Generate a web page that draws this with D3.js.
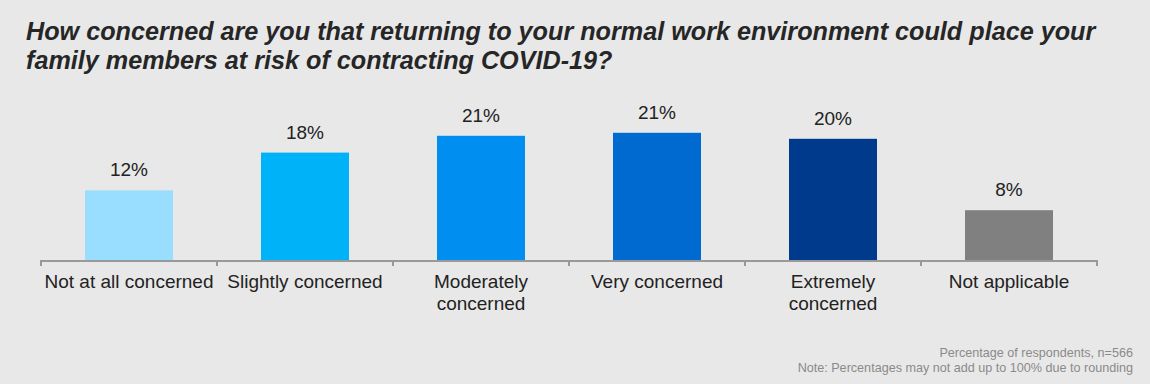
<!DOCTYPE html>
<html>
<head>
<meta charset="utf-8">
<script src="https://cdn.jsdelivr.net/npm/d3@7"></script>
<style>
	body { margin: 0; background: #e8e8e8; }
	svg { display: block; font-family: "Liberation Sans", Arial, sans-serif; }
</style>
</head>
<body>
<script>
var categories = [
	["Not at all concerned"],
	["Slightly concerned"],
	["Moderately", "concerned"],
	["Very concerned"],
	["Extremely", "concerned"],
	["Not applicable"]
];
var values = [11.6, 17.9, 20.7, 21.2, 20.2, 8.3];
var colors = ["#99ddff", "#00b2f7", "#008ff0", "#006ad0", "#003a8c", "#808080"];
var title_lines = [
	"How concerned are you that returning to your normal work environment could place your",
	"family members at risk of contracting COVID-19?"
];
var notes = [
	"Percentage of respondents, n=566",
	"Note: Percentages may not add up to 100% due to rounding"
];

var width = 1150, height = 384;
var svg = d3.select("body").append("svg").attr("width", width).attr("height", height);

svg.append("rect").attr("width", width).attr("height", height).attr("fill", "#e8e8e8");

// title
svg.append("g").selectAll("text")
	.data(title_lines)
	.enter().append("text")
	.attr("x", 26)
	.attr("y", function (d, i) { return 40 + i * 28.5; })
	.attr("fill", "#262626")
	.attr("font-size", 25.2)
	.attr("font-weight", "bold")
	.attr("font-style", "italic")
	.text(function (d) { return d; });

var idx = d3.range(categories.length);
var x = d3.scaleBand().domain(idx).range([41, 1097]).paddingInner(0.5).paddingOuter(0.25);
var y = d3.scaleLinear().domain([0, 25]).range([260, 110]);

// bars
svg.append("g").selectAll("rect")
	.data(idx)
	.enter().append("rect")
	.attr("x", function (i) { return x(i); })
	.attr("y", function (i) { return y(values[i]); })
	.attr("width", x.bandwidth())
	.attr("height", function (i) { return y(0) - y(values[i]); })
	.attr("fill", function (i) { return colors[i]; });

// value labels
svg.append("g").selectAll("text")
	.data(idx)
	.enter().append("text")
	.attr("x", function (i) { return x(i) + x.bandwidth() / 2; })
	.attr("y", function (i) { return y(values[i]) - 14; })
	.attr("text-anchor", "middle")
	.attr("font-size", 19)
	.attr("fill", "#222")
	.text(function (i) { return d3.format(".0f")(values[i]) + "%"; });

// axis line with ticks at band edges
var step = x.step();
var axis = svg.append("g");
axis.append("line")
	.attr("x1", 41).attr("x2", 1097)
	.attr("y1", y(0) + 1).attr("y2", y(0) + 1)
	.attr("stroke", "#999").attr("stroke-width", 2);
axis.selectAll("line.tick")
	.data(d3.range(categories.length + 1))
	.enter().append("line")
	.attr("class", "tick")
	.attr("x1", function (i) { return 41 + i * step; })
	.attr("x2", function (i) { return 41 + i * step; })
	.attr("y1", y(0)).attr("y2", y(0) + 6)
	.attr("stroke", "#999").attr("stroke-width", 2);

// category labels
var cat = svg.append("g").selectAll("text")
	.data(idx)
	.enter().append("text")
	.attr("x", function (i) { return x(i) + x.bandwidth() / 2; })
	.attr("y", 288)
	.attr("text-anchor", "middle")
	.attr("font-size", 19)
	.attr("fill", "#222");
cat.selectAll("tspan")
	.data(function (i) { return categories[i]; })
	.enter().append("tspan")
	.attr("x", function () { return d3.select(this.parentNode).attr("x"); })
	.attr("dy", function (d, j) { return j === 0 ? 0 : 22; })
	.text(function (d) { return d; });

// notes
svg.append("g").selectAll("text")
	.data(notes)
	.enter().append("text")
	.attr("x", 1133)
	.attr("y", function (d, i) { return 357 + i * 15; })
	.attr("text-anchor", "end")
	.attr("font-size", 12.6)
	.attr("fill", "#8a8a8a")
	.text(function (d) { return d; });
</script>
</body>
</html>
